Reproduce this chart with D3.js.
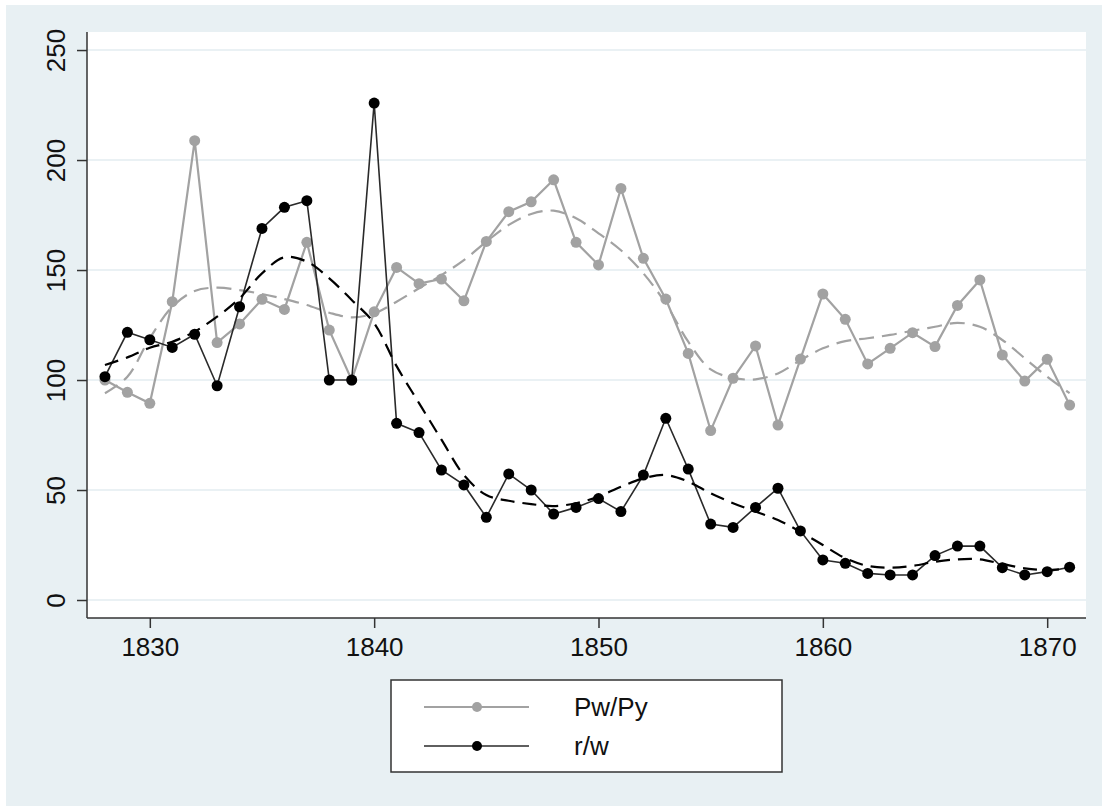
<!DOCTYPE html>
<html>
<head>
<meta charset="utf-8">
<script src="https://cdn.jsdelivr.net/npm/d3@7"></script>
<style>
  html, body { margin: 0; padding: 0; background: #fff; }
  svg { display: block; font-family: "Liberation Sans", Arial, sans-serif; }
</style>
</head>
<body>
<svg id="chart" width="1102" height="806"></svg>
<script>
// years 1828..1871
const years = d3.range(1828, 1872)

// Pw/Py, connected markers
const pwpy = [100, 94.4, 89.4, 135.6, 208.8, 117, 125.5, 136.7, 132.1, 162.6,
  122.7, 100, 131, 151.2, 143.8, 145.9, 136, 163, 176.5, 181,
  191, 162.6, 152.3, 187.1, 155.3, 136.8, 112.1, 77, 100.8, 115.5,
  79.5, 109.5, 139.1, 127.6, 107.3, 114.4, 121.5, 115.2, 133.9, 145.5,
  111.4, 99.5, 109.4, 88.6]

// r/w, connected markers
const rw = [101.5, 121.7, 118.3, 114.8, 120.8, 97.4, 133.3, 168.9, 178.5, 181.5,
  100, 100, 225.9, 80.3, 76.1, 59.1, 52.3, 37.6, 57.3, 50,
  39.1, 42.1, 46.1, 40.2, 56.8, 82.6, 59.5, 34.5, 33, 42.1,
  50.8, 31.4, 18.2, 16.7, 12.1, 11.4, 11.4, 20.2, 24.5, 24.5,
  14.7, 11.4, 12.9, 14.9]

// smoothed fits (dashed)
const pwpyFit = [94, 101.5, 119, 133.3, 140.5, 142, 140.9, 139.1, 136.8, 134.1,
  130.6, 128.5, 130.3, 135.6, 141.7, 147.7, 154.5, 162.9, 170.5, 175.5,
  177, 173.5, 166.7, 159, 148.5, 134.8, 117.4, 104.8, 101, 100.3,
  103, 109, 114.4, 117.7, 119, 120.5, 122.4, 124.2, 126, 124.2,
  118.2, 109.9, 101.5, 94]

const rwFit = [106.8, 110.3, 114.7, 117.4, 122, 128.8, 137.1, 148.5, 155.8, 153.8,
  146.2, 136.4, 125.8, 106.3, 89.5, 72.9, 56.8, 47.7, 45.1, 43.6,
  42.7, 44, 47, 51.5, 55.3, 56.8, 53.8, 48.5, 44, 40.2,
  36.4, 31, 25, 19, 15.5, 14.7, 15.5, 17.4, 18.5, 18.5,
  16.4, 14.4, 13.6, 14.4]

const yTicks = [0, 50, 100, 150, 200, 250]
const xTicks = [1830, 1840, 1850, 1860, 1870]
const legendLabels = ['Pw/Py', 'r/w']

const grey = '#a2a2a2'
const dark = '#333'

const svg = d3.select('#chart')

// outer panel
svg.append('rect').attr('x', 6).attr('y', 5).attr('width', 1096).attr('height', 801)
  .attr('fill', '#e8f0f3')

const plot = { left: 87, top: 32, right: 1086, bottom: 618 }
svg.append('rect').attr('x', plot.left).attr('y', plot.top)
  .attr('width', plot.right - plot.left).attr('height', plot.bottom - plot.top)
  .attr('fill', '#fff')

const x = d3.scaleLinear().domain([1827.2, 1871.73]).range([plot.left, plot.right])
const y = d3.scaleLinear().domain([-8.18, 258.2]).range([plot.bottom, plot.top])

// gridlines
svg.append('g').selectAll('line').data(yTicks).join('line')
  .attr('x1', plot.left).attr('x2', plot.right)
  .attr('y1', d => y(d)).attr('y2', d => y(d))
  .attr('stroke', '#e3ecf0').attr('stroke-width', 1.6)

// axes
const yAxis = svg.append('g').attr('transform', `translate(${plot.left},0)`)
  .call(d3.axisLeft(y).tickValues(yTicks).tickSize(10).tickPadding(12))
yAxis.select('.domain').attr('d', `M0,${plot.top}V${plot.bottom}`).attr('stroke', dark).attr('stroke-width', 1.5)
yAxis.selectAll('.tick line').attr('stroke', dark).attr('stroke-width', 1.5)
yAxis.selectAll('.tick text')
  .attr('font-size', 26).attr('fill', '#111')
  .attr('text-anchor', 'middle').attr('x', null).attr('dy', null)
  .attr('transform', 'translate(-22,0) rotate(-90)')
  .attr('y', 0)

const xAxis = svg.append('g').attr('transform', `translate(0,${plot.bottom})`)
  .call(d3.axisBottom(x).tickValues(xTicks).tickFormat(d3.format('d')).tickSize(10).tickPadding(10))
xAxis.select('.domain').attr('d', `M${plot.left},0H${plot.right}`).attr('stroke', dark).attr('stroke-width', 1.5)
xAxis.selectAll('.tick line').attr('stroke', dark).attr('stroke-width', 1.5)
xAxis.selectAll('.tick text').attr('font-size', 26).attr('fill', '#111')

const line = vals => d3.line().x((d, i) => x(years[i])).y(d => y(d))(vals)
const smooth = vals => d3.line().curve(d3.curveCatmullRom).x((d, i) => x(years[i])).y(d => y(d))(vals)

// Pw/Py
svg.append('path').attr('d', line(pwpy)).attr('fill', 'none')
  .attr('stroke', grey).attr('stroke-width', 2.2)
svg.append('g').selectAll('circle').data(pwpy).join('circle')
  .attr('cx', (d, i) => x(years[i])).attr('cy', d => y(d)).attr('r', 5.5).attr('fill', grey)
svg.append('path').attr('d', smooth(pwpyFit)).attr('fill', 'none')
  .attr('stroke', grey).attr('stroke-width', 2.2).attr('stroke-dasharray', '15 8')

// r/w
svg.append('path').attr('d', line(rw)).attr('fill', 'none')
  .attr('stroke', '#2a2a2a').attr('stroke-width', 1.6)
svg.append('g').selectAll('circle').data(rw).join('circle')
  .attr('cx', (d, i) => x(years[i])).attr('cy', d => y(d)).attr('r', 5.5).attr('fill', '#000')
svg.append('path').attr('d', smooth(rwFit)).attr('fill', 'none')
  .attr('stroke', '#000').attr('stroke-width', 2.2).attr('stroke-dasharray', '14 8')

// legend
const lg = svg.append('g')
lg.append('rect').attr('x', 391).attr('y', 680).attr('width', 391).attr('height', 92)
  .attr('fill', '#fff').attr('stroke', dark).attr('stroke-width', 1.5)
const entries = [
  { label: legendLabels[0], stroke: grey, fill: grey, w: 2.2, yy: 707 },
  { label: legendLabels[1], stroke: '#2a2a2a', fill: '#000', w: 1.6, yy: 746 }
]
const ent = lg.selectAll('g').data(entries).join('g')
ent.append('line').attr('x1', 424).attr('x2', 529).attr('y1', d => d.yy).attr('y2', d => d.yy)
  .attr('stroke', d => d.stroke).attr('stroke-width', d => d.w)
ent.append('circle').attr('cx', 477).attr('cy', d => d.yy).attr('r', 5).attr('fill', d => d.fill)
ent.append('text').attr('x', 574).attr('y', d => d.yy).attr('dy', '0.35em')
  .attr('font-size', 26).attr('fill', '#111').text(d => d.label)
</script>
</body>
</html>
